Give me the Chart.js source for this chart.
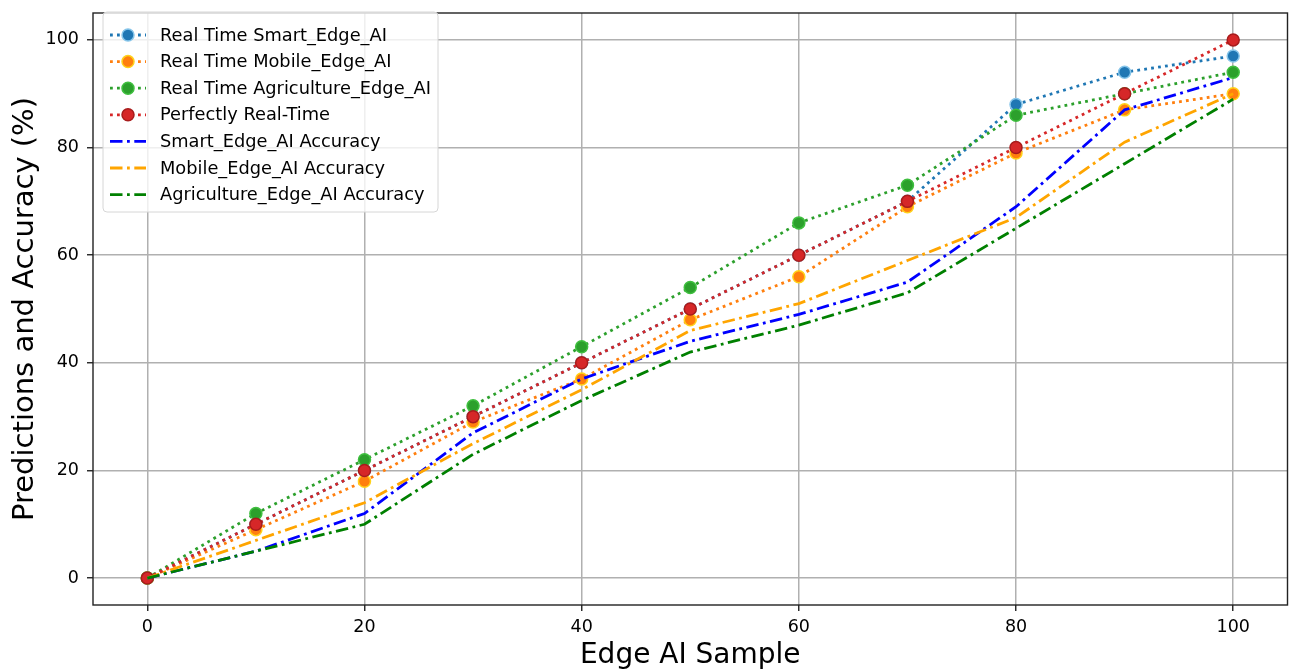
<!DOCTYPE html>
<html>
<head>
<meta charset="utf-8">
<script src="https://cdn.jsdelivr.net/npm/chart.js@4.4.0/dist/chart.umd.min.js"></script>
<style>
  html, body { margin: 0; padding: 0; background: #fff; }
  #wrap { width: 1295px; height: 669px; }
</style>
</head>
<body>
<div id="wrap"><canvas id="edge_chart" width="1295" height="669"></canvas></div>
<script>
// data
const samples = [0, 10, 20, 30, 40, 50, 60, 70, 80, 90, 100];
const rtSmart = [0, 10, 20, 30, 40, 50, 60, 70, 88, 94, 97];
const rtMobile = [0, 9, 18, 29, 37, 48, 56, 69, 79, 87, 90];
const rtAgri = [0, 12, 22, 32, 43, 54, 66, 73, 86, 90, 94];
const perfect = [0, 10, 20, 30, 40, 50, 60, 70, 80, 90, 100];
const accSmart = [0, 5, 12, 27, 37, 44, 49, 55, 69, 87, 93];
const accMobile = [0, 7, 14, 25, 35, 46, 51, 59, 67, 81, 90];
const accAgri = [0, 5, 10, 23, 33, 42, 47, 53, 65, 77, 89];
const xTicks = [0, 20, 40, 60, 80, 100];
const yTicks = [0, 20, 40, 60, 80, 100];

const FONT = "'DejaVu Sans', sans-serif";
const dotted = [2.8, 4.2];
const dashDot = [12.5, 4.5, 2.8, 4.5];

const series = [
    { label: "Real Time Smart_Edge_AI", data: rtSmart, color: "#1f77b4", edge: "#86c5ea", dash: dotted, marker: true },
    { label: "Real Time Mobile_Edge_AI", data: rtMobile, color: "#ff7f0e", edge: "#ffd21a", dash: dotted, marker: true },
    { label: "Real Time Agriculture_Edge_AI", data: rtAgri, color: "#2ca02c", edge: "#3fbf3f", dash: dotted, marker: true },
    { label: "Perfectly Real-Time", data: perfect, color: "#d62728", edge: "#a81c1c", dash: dotted, marker: true },
    { label: "Smart_Edge_AI Accuracy", data: accSmart, color: "#0000ff", dash: dashDot, marker: false },
    { label: "Mobile_Edge_AI Accuracy", data: accMobile, color: "#ffa500", dash: dashDot, marker: false },
    { label: "Agriculture_Edge_AI Accuracy", data: accAgri, color: "#008000", dash: dashDot, marker: false },
];

const datasets = series.map((s, i) => ({
    label: s.label,
    data: samples.map((x, k) => ({ x: x, y: s.data[k] })),
    borderColor: s.color,
    backgroundColor: s.color,
    borderWidth: 2.8,
    borderDash: s.dash,
    pointRadius: s.marker ? 6 : 0,
    pointBorderWidth: 1.5,
    pointBorderColor: s.edge || s.color,
    pointBackgroundColor: s.color,
    tension: 0,
    order: series.length - i,
}));

// plot frame + custom legend like matplotlib
const framePlugin = {
    id: 'frame',
    afterDatasetsDraw(chart) {
        const { ctx, chartArea: a } = chart;
        ctx.save();
        ctx.strokeStyle = '#222';
        ctx.lineWidth = 1.4;
        ctx.strokeRect(a.left, a.top, a.right - a.left, a.bottom - a.top);
        ctx.restore();
    },
    afterDraw(chart) {
        const ctx = chart.ctx;
        const bx = 103, by = 12, bw = 335, bh = 200, r = 4;
        ctx.save();
        ctx.beginPath();
        ctx.roundRect(bx, by, bw, bh, r);
        ctx.fillStyle = 'rgba(255,255,255,0.8)';
        ctx.fill();
        ctx.strokeStyle = '#d6d6d6';
        ctx.lineWidth = 1;
        ctx.stroke();
        ctx.font = "17.8px " + FONT;
        ctx.textBaseline = 'middle';
        series.forEach((s, i) => {
            const y = 35 + i * 26.6;
            ctx.strokeStyle = s.color;
            ctx.lineWidth = 2.8;
            ctx.setLineDash(s.dash);
            ctx.beginPath();
            ctx.moveTo(110, y);
            ctx.lineTo(146, y);
            ctx.stroke();
            ctx.setLineDash([]);
            if (s.marker) {
                ctx.beginPath();
                ctx.arc(128, y, 6, 0, Math.PI * 2);
                ctx.fillStyle = s.color;
                ctx.fill();
                ctx.lineWidth = 1.5;
                ctx.strokeStyle = s.edge;
                ctx.stroke();
            }
            ctx.fillStyle = '#000';
            ctx.fillText(s.label, 160, y + 1);
        });
        ctx.restore();
    }
};

const ctx = document.getElementById("edge_chart").getContext("2d");
const edge_chart = new Chart(ctx, {
    type: 'line',
    data: { datasets: datasets },
    plugins: [framePlugin],
    options: {
        responsive: false,
        animation: false,
        layout: { padding: { top: 13, right: 5, left: 0, bottom: 0 } },
        plugins: { legend: { display: false }, tooltip: { enabled: false } },
        scales: {
            x: {
                type: 'linear', min: -5, max: 105,
                afterBuildTicks: (s) => { s.ticks = xTicks.map(v => ({ value: v })); },
                afterFit: (s) => { s.height = 64; s.paddingLeft = 0; s.paddingRight = 0; },
                grid: { color: '#b0b0b0', lineWidth: 1.5, tickLength: 6, tickColor: '#222', tickWidth: 1.4 },
                border: { display: false },
                ticks: { color: '#000', font: { family: FONT, size: 17.5 }, padding: 6, maxRotation: 0 },
                title: { display: true, text: 'Edge AI Sample', color: '#000', font: { family: FONT, size: 28 }, padding: { top: 0, bottom: -4 } },
            },
            y: {
                type: 'linear', min: -5, max: 105,
                afterBuildTicks: (s) => { s.ticks = yTicks.map(v => ({ value: v })); },
                afterFit: (s) => { s.width = 93; s.paddingTop = 0; s.paddingBottom = 0; },
                grid: { color: '#b0b0b0', lineWidth: 1.5, tickLength: 6, tickColor: '#222', tickWidth: 1.4 },
                border: { display: false },
                ticks: { color: '#000', font: { family: FONT, size: 17.5 }, padding: 8 },
                title: { display: true, text: 'Predictions and Accuracy (%)', color: '#000', font: { family: FONT, size: 29 }, padding: { top: 8, bottom: 0 } },
            },
        },
    },
});
</script>
</body>
</html>
